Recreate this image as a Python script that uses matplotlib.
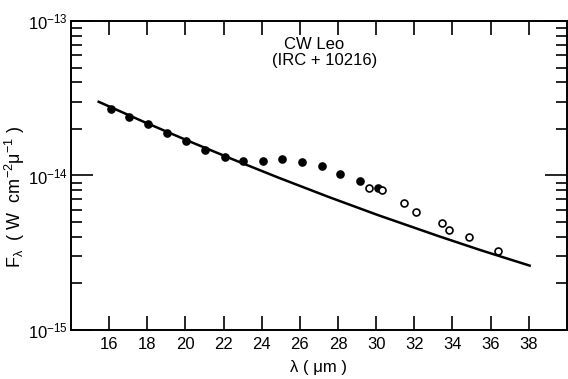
import numpy as np
import matplotlib.pyplot as plt
from matplotlib.ticker import LogLocator, NullFormatter

plt.rcParams["font.family"] = ["Liberation Sans", "DejaVu Sans"]
plt.rcParams["mathtext.fontset"] = "custom"
plt.rcParams["mathtext.rm"] = "Liberation Sans"
plt.rcParams["mathtext.it"] = "Liberation Sans"

# Filled points
wl_filled = [16.09, 17.05, 18.06, 19.03, 20.04, 21.04, 22.05, 23.04, 24.05,
             25.06, 26.1, 27.15, 28.09, 29.14, 30.08]
flux_filled = [2.69e-14, 2.39e-14, 2.15e-14, 1.87e-14, 1.67e-14, 1.47e-14,
               1.32e-14, 1.25e-14, 1.25e-14, 1.27e-14, 1.23e-14, 1.15e-14,
               1.02e-14, 9.2e-15, 8.26e-15]

# Open points
wl_open = [29.6, 30.29, 31.47, 32.09, 33.45, 33.84, 34.88, 36.41]
flux_open = [8.3e-15, 8.05e-15, 6.67e-15, 5.78e-15, 4.93e-15, 4.44e-15,
             3.98e-15, 3.24e-15]

# Model curve
wl_line = [15.45, 17.8, 20.2, 22.5, 24.9, 27.5, 30.1, 33.3, 35.5, 38.05]
flux_line = [3.0e-14, 2.23e-14, 1.665e-14, 1.27e-14, 9.66e-15, 7.27e-15,
             5.54e-15, 4.04e-15, 3.28e-15, 2.61e-15]

fig = plt.figure(figsize=(5.68, 3.79), dpi=100)
ax = fig.add_axes([0.125, 0.1293, 0.873, 0.8153])

ax.plot(wl_line, flux_line, color="black", lw=1.8)
ax.plot(wl_filled, flux_filled, "o", color="black", ms=5.2)
ax.plot(wl_open, flux_open, "o", mfc="white", mec="black", mew=1.2, ms=5)

ax.set_yscale("log")
ax.set_xlim(14, 40)
ax.set_ylim(1e-15, 1e-13)
ax.set_xticks(np.arange(16, 39, 2))
ax.yaxis.set_major_locator(LogLocator(base=10, numticks=5))
ax.yaxis.set_minor_locator(LogLocator(base=10, subs=np.arange(2, 10), numticks=20))
ax.yaxis.set_minor_formatter(NullFormatter())

for s in ax.spines.values():
    s.set_linewidth(1.4)

ax.tick_params(axis="x", which="major", direction="in", top=True, length=10,
               width=1.2, labelsize=12, pad=5)
ax.tick_params(axis="y", which="major", direction="in", right=True, length=16,
               width=1.2, labelsize=12, pad=2)
ax.tick_params(axis="y", which="minor", direction="in", right=True, length=8,
               width=1.2)

ax.set_xlabel("λ ( μm )", fontsize=12, labelpad=6)
ax.set_ylabel(r"F$_{\mathrm{λ}}$  ( W  cm$^{-2}$μ$^{-1}$ )", fontsize=13)
ax.yaxis.set_label_coords(-0.088, 0.43)

ax.text(0.491, 0.9, "CW Leo", transform=ax.transAxes,
        ha="center", va="bottom", fontsize=12)
ax.text(0.511, 0.895, "(IRC + 10216)", transform=ax.transAxes,
        ha="center", va="top", fontsize=12)

fig.savefig("out.png", dpi=100)
